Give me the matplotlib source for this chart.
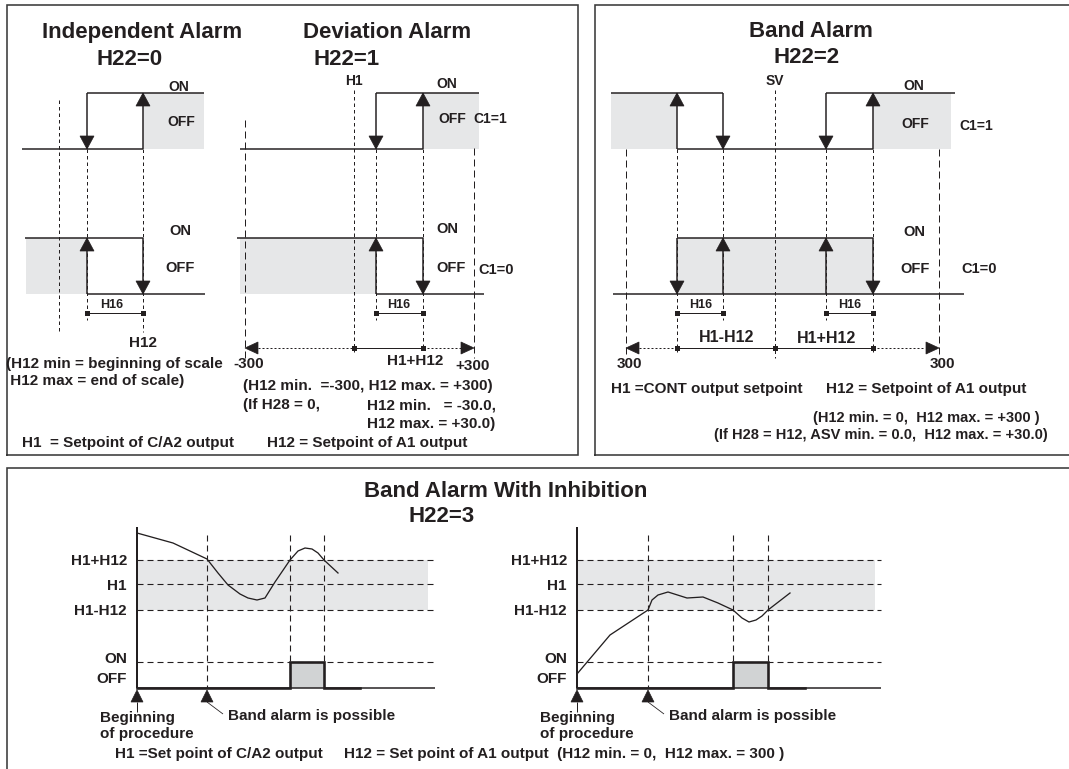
import matplotlib
matplotlib.use('Agg')
from matplotlib import pyplot as plt
from matplotlib.patches import Polygon, Rectangle

plt.rcParams['font.family'] = ['Liberation Sans', 'DejaVu Sans']
plt.rcParams['font.weight'] = 'bold'
plt.rcParams['lines.scale_dashes'] = False

K = '#231f20'
GRAY = '#e6e7e8'
PULSE = '#d1d3d4'
PX = 0.72  # 1 pixel in points at dpi 100

# ---------------- data (pixel positions of the drawing) ----------------
frames = [(7, 5, 578, 455), (595, 5, 1080, 455), (7, 468, 1080, 780)]

# levels of the hysteresis drawings
up_on, up_off = 93, 149
lo_on, lo_off = 238, 294
h16_y = 313
dim_y = 348

# independent alarm H22=0
ind_sw = [87, 143]
ind_short = [(59, 100, 332), (87, 149, 320), (143, 149, 332)]

# deviation alarm H22=1
dev_sw = [376, 423]
dev_short = [(354, 90, 352), (376, 149, 320), (423, 149, 350)]
dev_long = [(245, 120, 358), (474, 148, 358)]

# band alarm H22=2
band_sw = [677, 723, 826, 873]
band_short = [(677, 149, 352), (723, 149, 320), (775, 90, 358),
              (826, 149, 320), (873, 149, 352)]
band_long = [(626, 149, 358), (939, 149, 358)]

# band alarm with inhibition H22=3
inh_levels = {'H1+H12': 560, 'H1': 584, 'H1-H12': 610, 'ON': 662}
inh_off = 688
inh_top = 527
curve1_x = [137, 173, 207, 218, 228, 240, 248, 257, 265, 275, 290, 298, 305, 312, 318, 324, 338]
curve1_y = [533, 543, 559, 573, 585, 594, 598, 600, 598, 582, 560, 551, 548, 549, 553, 560, 573]
curve2_x = [577, 610, 648, 652, 658, 668, 687, 703, 718, 733, 742, 749, 756, 762, 768, 790]
curve2_y = [674, 635, 610, 600, 595, 592, 598, 597, 603, 610, 618, 622, 620, 616, 610, 593]
inh_charts = [
    # x0, x_end, gray_end, curve, vertical lines, pulse, off tail
    (137, 435, 428, (curve1_x, curve1_y), [(207, 688), (290, 662), (324, 662)], (290, 324), 360),
    (577, 881, 875, (curve2_x, curve2_y), [(648, 688), (733, 662), (768, 662)], (733, 768), 805),
]

fig = plt.figure(figsize=(10.69, 7.69), dpi=100)
ax = fig.add_axes([0, 0, 1, 1])
ax.set_xlim(0, 1069)
ax.set_ylim(769, 0)
ax.axis('off')


def line(xs, ys, lw=1.5, ls='-', c=K, z=3):
    ax.plot(xs, ys, color=c, lw=lw * PX, ls=ls, solid_capstyle='butt', zorder=z)


def short_dash(x, y0, y1):
    line([x, x], [y0, y1], lw=1.0, ls=(0, (3.5 * PX, 3 * PX)), z=2)


def long_dash(x, y0, y1):
    line([x, x], [y0, y1], lw=1.0, ls=(0, (7 * PX, 4 * PX)), z=2)


def head(x, y, d, w=7, ln=13):
    # triangle head with tip at (x, y), d = direction
    if d == 'down':
        pts = [(x, y), (x - w, y - ln), (x + w, y - ln)]
    elif d == 'up':
        pts = [(x, y), (x - w, y + ln), (x + w, y + ln)]
    elif d == 'left':
        pts = [(x, y), (x + ln, y - w + 1), (x + ln, y + w - 1)]
    else:
        pts = [(x, y), (x - ln, y - w + 1), (x - ln, y + w - 1)]
    ax.add_patch(Polygon(pts, closed=True, fc=K, ec=K, lw=0.5, zorder=5))


def varrow(x, y0, y1):
    line([x, x], [y0, y1])
    head(x, y1, 'down' if y1 > y0 else 'up')


def square(x, y, s=5):
    ax.add_patch(Rectangle((x - s / 2, y - s / 2), s, s, fc=K, ec=K, lw=0, zorder=5))


def gray(x0, x1, y0, y1, c=GRAY):
    ax.add_patch(Rectangle((x0, y0), x1 - x0, y1 - y0, fc=c, ec='none', zorder=1))


def txt(x, y, s, size=11, ha='left', va='baseline'):
    ax.text(x, y, s, fontsize=size, ha=ha, va=va, color=K, fontweight='bold', zorder=6)


def h16(x0, x1, xc):
    line([x0, x1], [h16_y, h16_y], lw=1.0)
    square(x0, h16_y)
    square(x1, h16_y)
    txt(xc, 308, 'H16', size=9, ha='center')


# frames
for l, t, r, b in frames:
    ax.plot([l, l, r, r, l], [b, t, t, b, b], color='#3a3a3a', lw=1.6 * PX, zorder=4,
            solid_joinstyle='miter')

# ---------------- independent alarm ----------------
a, b = ind_sw
txt(142, 38, 'Independent Alarm', size=16, ha='center')
txt(130, 65, 'H22=0', size=16, ha='center')
for x, y0, y1 in ind_short:
    short_dash(x, y0, y1)
gray(b, 204, up_on, up_off)
line([22, b], [up_off, up_off])
line([a, 204], [up_on, up_on])
varrow(a, up_on, up_off)
varrow(b, up_off, up_on)
txt(179, 91, 'ON', size=10, ha='center')
txt(181, 126, 'OFF', size=10, ha='center')
gray(26, a, lo_on, lo_off)
line([25, b], [lo_on, lo_on])
line([a, 205], [lo_off, lo_off])
varrow(a, lo_off, lo_on)
varrow(b, lo_on, lo_off)
txt(180, 235, 'ON', size=10.5, ha='center')
txt(180, 272, 'OFF', size=10.5, ha='center')
h16(a, b, 112)
txt(143, 347, 'H12', size=11, ha='center')
txt(6, 368, '(H12 min = beginning of scale', size=11)
txt(6, 385, ' H12 max = end of scale)', size=11)
txt(22, 447, 'H1', size=11)
txt(50, 447, '= Setpoint of C/A2 output', size=11)
txt(267, 447, 'H12 = Setpoint of A1 output', size=11)

# ---------------- deviation alarm ----------------
a, b = dev_sw
txt(387, 38, 'Deviation Alarm', size=16, ha='center')
txt(347, 65, 'H22=1', size=16, ha='center')
txt(354, 85, 'H1', size=10, ha='center')
for x, y0, y1 in dev_short:
    short_dash(x, y0, y1)
for x, y0, y1 in dev_long:
    long_dash(x, y0, y1)
gray(b, 479, up_on, up_off)
line([240, b], [up_off, up_off])
line([a, 479], [up_on, up_on])
varrow(a, up_on, up_off)
varrow(b, up_off, up_on)
txt(447, 88, 'ON', size=10, ha='center')
txt(452, 123, 'OFF', size=10, ha='center')
txt(490, 123, 'C1=1', size=10, ha='center')
gray(240, a, lo_on, lo_off)
line([237, b], [lo_on, lo_on])
line([a, 484], [lo_off, lo_off])
varrow(a, lo_off, lo_on)
varrow(b, lo_on, lo_off)
txt(447, 233, 'ON', size=10.5, ha='center')
txt(451, 272, 'OFF', size=10.5, ha='center')
txt(496, 274, 'C1=0', size=10.5, ha='center')
h16(a, b, 399)
line([258, 354], [dim_y, dim_y], lw=1.0, ls=(0, (2 * PX, 2 * PX)))
line([354, b], [dim_y, dim_y], lw=1.0)
line([b, 461], [dim_y, dim_y], lw=1.0, ls=(0, (2 * PX, 2 * PX)))
head(245, dim_y, 'left')
head(474, dim_y, 'right')
square(354, dim_y)
square(b, dim_y)
txt(249, 368, '-300', size=11, ha='center')
txt(415, 365, 'H1+H12', size=11, ha='center')
txt(473, 370, '+300', size=11, ha='center')
txt(243, 390, '(H12 min.  =-300, H12 max. = +300)', size=11)
txt(243, 409, '(If H28 = 0,', size=11)
txt(367, 409, 'H12 min.   = -30.0,', size=11)
txt(367, 428, 'H12 max. = +30.0)', size=11)

# ---------------- band alarm ----------------
p1, p2, p3, p4 = band_sw
txt(811, 37, 'Band Alarm', size=16, ha='center')
txt(807, 63, 'H22=2', size=16, ha='center')
txt(775, 85, 'SV', size=10, ha='center')
for x, y0, y1 in band_short:
    short_dash(x, y0, y1)
for x, y0, y1 in band_long:
    long_dash(x, y0, y1)
gray(611, p1, up_on, up_off)
gray(p4, 951, up_on, up_off)
line([611, p2], [up_on, up_on])
line([p1, p4], [up_off, up_off])
line([p3, 955], [up_on, up_on])
varrow(p1, up_off, up_on)
varrow(p2, up_on, up_off)
varrow(p3, up_on, up_off)
varrow(p4, up_off, up_on)
txt(914, 90, 'ON', size=10, ha='center')
txt(915, 128, 'OFF', size=10, ha='center')
txt(976, 130, 'C1=1', size=10, ha='center')
gray(p1, p4, lo_on, lo_off)
line([613, 964], [lo_off, lo_off])
line([p1, p4], [lo_on, lo_on])
varrow(p1, lo_on, lo_off)
varrow(p2, lo_off, lo_on)
varrow(p3, lo_off, lo_on)
varrow(p4, lo_on, lo_off)
txt(914, 236, 'ON', size=10.5, ha='center')
txt(915, 273, 'OFF', size=10.5, ha='center')
txt(979, 273, 'C1=0', size=10.5, ha='center')
h16(p1, p2, 701)
h16(p3, p4, 850)
line([639, p1], [dim_y, dim_y], lw=1.0, ls=(0, (2 * PX, 2 * PX)))
line([p1, p4], [dim_y, dim_y], lw=1.0)
line([p4, 925], [dim_y, dim_y], lw=1.0, ls=(0, (2 * PX, 2 * PX)))
head(626, dim_y, 'left')
head(939, dim_y, 'right')
for x in [p1, 775, p4]:
    square(x, dim_y)
txt(727, 342, 'H1-H12', size=11.5, ha='center')
txt(827, 343, 'H1+H12', size=11.5, ha='center')
txt(629, 368, '300', size=11, ha='center')
txt(942, 368, '300', size=11, ha='center')
txt(611, 393, 'H1 =CONT output setpoint', size=11)
txt(826, 393, 'H12 = Setpoint of A1 output', size=11)
txt(1040, 422, '(H12 min. = 0,  H12 max. = +300 )', size=10.5, ha='right')
txt(1048, 439, '(If H28 = H12, ASV min. = 0.0,  H12 max. = +30.0)', size=10.5, ha='right')

# ---------------- band alarm with inhibition ----------------
txt(506, 497, 'Band Alarm With Inhibition', size=16, ha='center')
txt(442, 522, 'H22=3', size=16, ha='center')
for x0, x_end, g_end, (cx, cy), vlines, (pa, pb), tail in inh_charts:
    gray(x0, g_end, inh_levels['H1+H12'], inh_levels['H1-H12'])
    for name, y in inh_levels.items():
        line([x0, x_end], [y, y], lw=1.1, ls=(0, (6 * PX, 4 * PX)), z=2)
    for x, yb in vlines:
        line([x, x], [535, yb], lw=1.1, ls=(0, (6 * PX, 4 * PX)), z=2)
    line([x0, x0], [inh_top, inh_off], lw=2.0)
    line([x0, x_end], [inh_off, inh_off], lw=1.5)
    ax.plot(cx, cy, color=K, lw=1.3 * PX, zorder=3)
    gray(pa, pb, inh_levels['ON'], inh_off, c=PULSE)
    ax.plot([x0, pa, pa, pb, pb, tail], [inh_off, inh_off, inh_levels['ON'], inh_levels['ON'], inh_off, inh_off],
            color=K, lw=2.6 * PX, zorder=4, solid_joinstyle='miter')
    lab_x = x0 - 10
    txt(lab_x, 565, 'H1+H12', size=11, ha='right')
    txt(lab_x, 590, 'H1', size=11, ha='right')
    txt(lab_x, 615, 'H1-H12', size=11, ha='right')
    txt(lab_x, 663, 'ON', size=11, ha='right')
    txt(lab_x, 683, 'OFF', size=11, ha='right')
    # arrows under axis
    xb = vlines[0][0]
    head(x0, 690, 'up', w=6, ln=12)
    head(xb, 690, 'up', w=6, ln=12)
    line([x0, x0], [702, 712], lw=1.0)
    line([xb, xb + 16], [702, 714], lw=0.8)
    txt(x0 - 37, 722, 'Beginning', size=11)
    txt(x0 - 37, 738, 'of procedure', size=11)
    txt(xb + 21, 720, 'Band alarm is possible', size=11)

txt(115, 758, 'H1 =Set point of C/A2 output     H12 = Set point of A1 output  (H12 min. = 0,  H12 max. = 300 )', size=11)

fig.savefig('out.png', dpi=100)
